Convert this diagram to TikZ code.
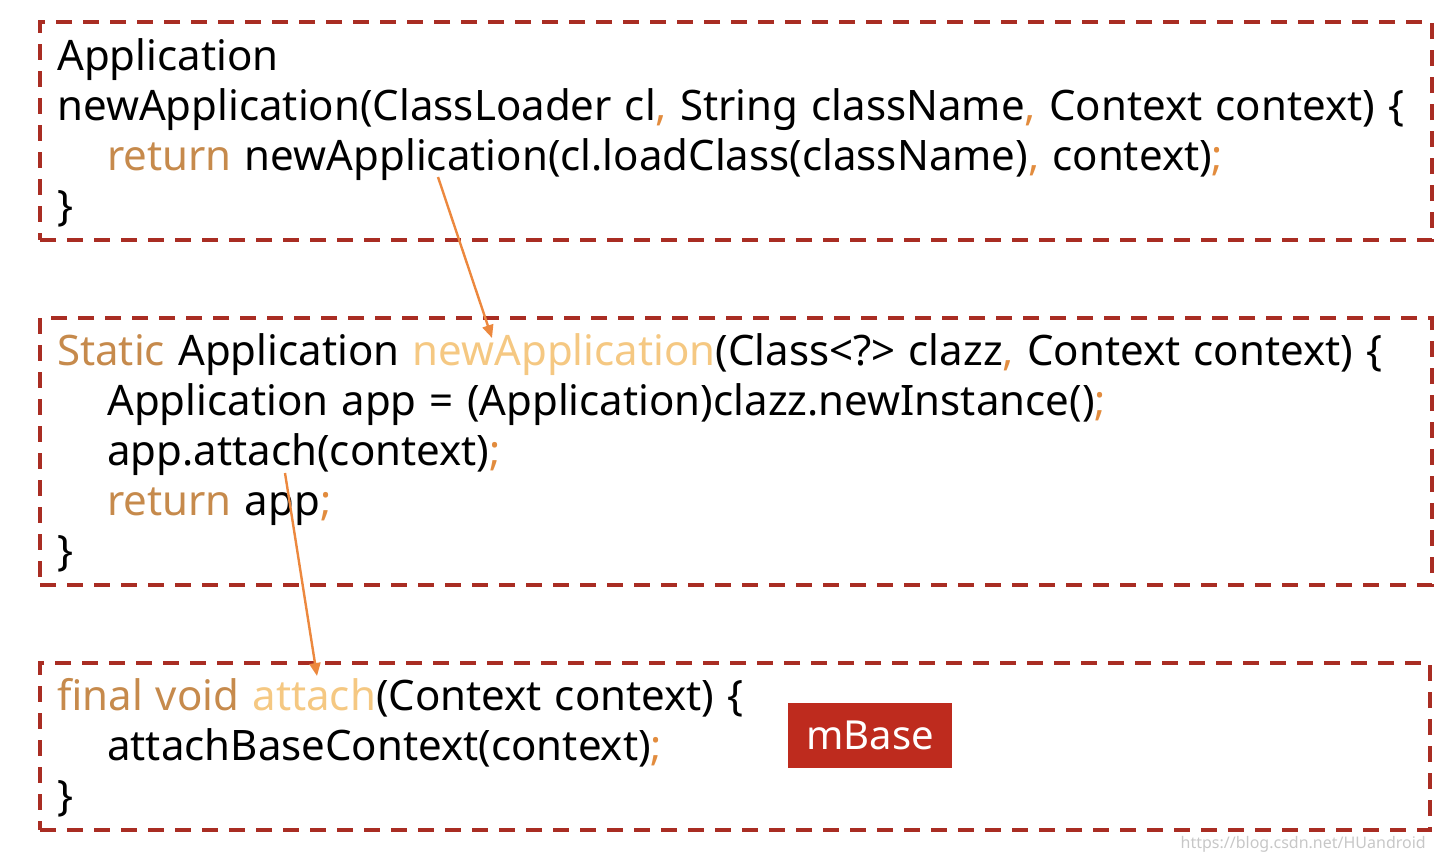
\documentclass[tikz,border=0pt]{standalone}
\usepackage{fontspec}
\setmainfont[WordSpace=1.2]{Noto Sans}
\usetikzlibrary{arrows.meta}
\definecolor{bord}{RGB}{169,45,35}
\definecolor{kw}{RGB}{198,138,76}
\definecolor{lite}{RGB}{245,200,130}
\definecolor{punct}{RGB}{226,140,62}
\definecolor{arr}{RGB}{236,136,62}
\definecolor{mred}{RGB}{190,43,30}
\tikzset{
  frame/.style={draw=bord, line width=3.5pt, dash pattern=on 16pt off 11pt, minimum width=1392pt, inner sep=0pt},
  code/.style={anchor=base west, inner sep=0pt, font=\fontsize{42}{50}\selectfont},
  link/.style={draw=arr, line width=2.4pt, -{Triangle[length=13pt,width=11pt]}},
}
\newcommand{\kwc}[1]{\textcolor{kw}{#1}}
\newcommand{\ltc}[1]{\textcolor{lite}{#1}}
\newcommand{\pc}[1]{\textcolor{punct}{#1}}
\begin{document}
\begin{tikzpicture}[x=1pt,y=-1pt]
\useasboundingbox (0,0) rectangle (1436,860);
% frames
\node[frame, minimum height=218pt] (f1) at (736,131) {};
\node[frame, minimum height=267pt] (f2) at (736,451.5) {};
\node[frame, minimum width=1390pt, minimum height=167pt] (f3) at (735,746.5) {};
% box 1
\node[code] (l11) at (57,70) {Application};
\node[code] (l12) at (57,120) {newApplication(ClassLoader cl\pc{,} String className\pc{,} Context context) \{};
\node[code] (l13) at (107,170) {\kwc{return} newApplication(cl.loadClass(className)\pc{,} context)\pc{;}};
\node[code] (l14) at (57,220) {\}};
% box 2
\node[code] (l21) at (57,365) {\kwc{Static} Application \ltc{newApplication}(Class<?> clazz\pc{,} Context context) \{};
\node[code] (l22) at (107,415) {Application app = (Application)clazz.newInstance()\pc{;}};
\node[code] (l23) at (107,465) {app.attach(context)\pc{;}};
\node[code] (l24) at (107,515) {\kwc{return} app\pc{;}};
\node[code] (l25) at (57,565) {\}};
% box 3
\node[code] (l31) at (57,710) {\kwc{final void} \ltc{attach}(Context context) \{};
\node[code] (l32) at (107,760) {attachBaseContext(context)\pc{;}};
\node[code] (l33) at (57,810) {\}};
% mBase
\node[fill=mred, text=white, minimum width=164pt, minimum height=65pt, inner sep=0pt, font=\fontsize{40}{48}\selectfont] (mb) at (870,735.5) {mBase};
% arrows
\coordinate (a1s) at (438,177);
\coordinate (a1e) at (492,338);
\coordinate (a2s) at (285,473);
\coordinate (a2e) at (317,676);
\draw[link] (a1s) -- (a1e);
\draw[link] (a2s) -- (a2e);
% watermark
\node[anchor=base east, inner sep=0pt, text=black!22, font=\fontsize{16}{18}\selectfont] (wm) at (1426,848) {https://blog.csdn.net/HUandroid};
\end{tikzpicture}
\end{document}
